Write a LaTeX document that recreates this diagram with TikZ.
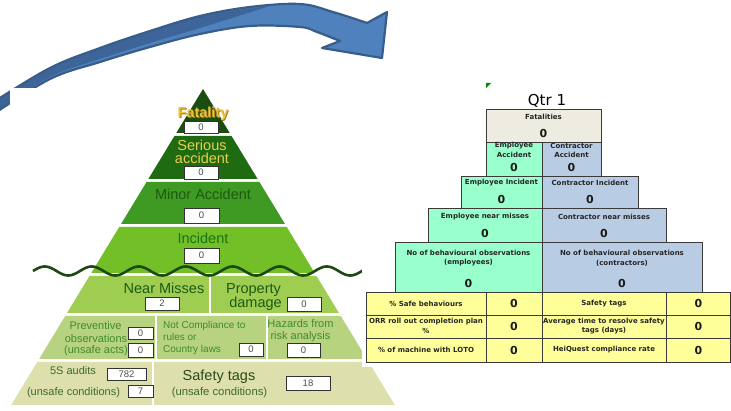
\documentclass[tikz,border=0pt]{standalone}
\usepackage{fontspec}
\setmainfont{Liberation Sans}
\newfontfamily\tah{DejaVu Sans}
\newcommand\myfs[1]{\fontsize{#1}{#1}\selectfont}
\newcommand\pyrband[3]{\fill[#3] ({203-0.607*(#1-89)},#1) -- ({203+0.607*(#1-89)},#1) -- ({203+0.607*(#2-89)},#2) -- ({203-0.607*(#2-89)},#2) -- cycle;}
\definecolor{arlight}{HTML}{4F81BD}
\definecolor{ardark}{HTML}{3E659A}
\definecolor{arline}{HTML}{385D8A}
\definecolor{fatc}{HTML}{1B4D10}
\definecolor{serc}{HTML}{1F6B12}
\definecolor{minc}{HTML}{3E9A22}
\definecolor{incc}{HTML}{72BF28}
\definecolor{nmc}{HTML}{9FCD52}
\definecolor{prc}{HTML}{B8D380}
\definecolor{sfc}{HTML}{DDE0AC}
\definecolor{gold}{HTML}{F0C23A}
\definecolor{goldsh}{HTML}{A07818}
\definecolor{sertext}{HTML}{E8CF50}
\definecolor{wavec}{HTML}{1D4A12}
\definecolor{tabline}{HTML}{3A3A3A}
\definecolor{beige}{HTML}{EEECE1}
\definecolor{mint}{HTML}{99FFCC}
\definecolor{lblue}{HTML}{B8CCE4}
\definecolor{yell}{HTML}{FFFF99}
\definecolor{dgreen}{HTML}{1C5A14}
\definecolor{mgreen}{HTML}{3E8C2E}
\definecolor{ogreen}{HTML}{3D6A2A}
\begin{document}
\begin{tikzpicture}[x=1pt,y=-1pt,
  vbox/.style={draw=black!80, fill=white, line width=0.6pt, inner sep=0pt, outer sep=0pt, font=\myfs{9.5}, text=black!70},
  ptxt/.style={inner sep=0pt, anchor=base},
  cell/.style={draw=tabline, line width=0.7pt, inner sep=0pt, outer sep=0pt, anchor=north west},
  tl/.style={font=\tah\bfseries\myfs{7}, inner sep=0pt, text=black!85},
  tv/.style={font=\tah\bfseries\myfs{11}, inner sep=0pt, text=black!90},
  divider/.style={white, line width=2.5pt}]
\useasboundingbox (0,0) rectangle (731,411);
% ---------- curved arrow ----------
\fill[arlight] plot[smooth, tension=0.6] coordinates {(-8,103) (50,68) (100,48) (150,31) (200,16) (250,7) (300,4) (333,12) (367,23)}
  -- (387,12) -- (382,58) -- (322,48) -- (340,41)
  -- plot[smooth, tension=0.6] coordinates {(340,41) (317,32) (300,27) (250,26) (200,34) (150,47) (100,62) (50,79) (-8,115)} -- cycle;
\fill[ardark] plot[smooth, tension=0.6] coordinates {(-8,103) (50,68) (100,48) (150,31) (200,16) (270,6)}
  -- plot[smooth, tension=0.6] coordinates {(270,6) (200,28) (150,43) (100,59) (50,77) (-8,114)} -- cycle;
\draw[arline, line width=2.2pt, line join=round] plot[smooth, tension=0.6] coordinates {(-8,103) (50,68) (100,48) (150,31) (200,16) (250,7) (300,4) (333,12) (367,23)}
  -- (387,12) -- (382,58) -- (322,48) -- (340,41)
  -- plot[smooth, tension=0.6] coordinates {(340,41) (317,32) (300,27) (250,26) (200,34) (150,47) (100,62) (50,79) (-8,115)} -- cycle;
% ---------- pyramid ----------
\fill[white] (10,88) rectangle (362,411);
\pyrband{89}{133}{fatc}
\pyrband{136}{179}{serc}
\pyrband{182}{224}{minc}
\pyrband{227}{273}{incc}
\pyrband{276}{313}{nmc}
\pyrband{316}{359}{prc}
\pyrband{362}{405}{sfc}
\draw[divider] (210,276) -- (210,313);
\draw[divider] (156,316) -- (156,359);
\draw[divider] (267,316) -- (267,359);
\draw[divider] (153,362) -- (153,405);
\draw[wavec, line width=2.6pt] plot[domain=33:366, samples=220, smooth] (\x,{271-4.5*sin((\x-33)*7.66)});
% texts
\node[ptxt, font=\bfseries\myfs{14.5}, text=goldsh] (fatsh) at (203.9,118.8) {Fatality};
\node[ptxt, font=\bfseries\myfs{14.5}, text=gold] (fattxt) at (203,117.9) {Fatality};
\node[ptxt, font=\myfs{14.5}, text=sertext] (ser1) at (202,150.5) {Serious};
\node[ptxt, font=\myfs{14.5}, text=sertext] (ser2) at (202,164) {accident};
\node[ptxt, font=\myfs{14.5}, text=dgreen] (mintxt) at (203,199.5) {Minor Accident};
\node[ptxt, font=\myfs{14.5}, text=dgreen!85!green] (inctxt) at (203,243.5) {Incident};
\node[ptxt, font=\myfs{14.5}, text=dgreen] (nmtxt) at (164,294) {Near Misses};
\node[ptxt, font=\myfs{14.5}, text=dgreen] (pd1) at (253.5,294) {Property};
\node[ptxt, font=\myfs{14.5}, text=dgreen] (pd2) at (255.5,307.5) {damage};
\node[ptxt, font=\myfs{11}, text=mgreen] (pv1) at (95.5,330) {Preventive};
\node[ptxt, font=\myfs{11}, text=mgreen] (pv2) at (96,342.3) {observations};
\node[ptxt, font=\myfs{11}, text=mgreen] (pv3) at (96,354) {(unsafe acts)};
\node[ptxt, anchor=base west, font=\myfs{10}, text=mgreen] (nc1) at (163,329) {Not Compliance to};
\node[ptxt, anchor=base west, font=\myfs{10}, text=mgreen] (nc2) at (163,341) {rules or};
\node[ptxt, anchor=base west, font=\myfs{10}, text=mgreen] (nc3) at (163,353) {Country laws};
\node[ptxt, font=\myfs{11}, text=mgreen] (hz1) at (300.5,327.3) {Hazards from};
\node[ptxt, font=\myfs{11}, text=mgreen] (hz2) at (300.5,339.5) {risk analysis};
\node[ptxt, font=\myfs{11}, text=ogreen] (sa1) at (73,375) {5S audits};
\node[ptxt, font=\myfs{11}, text=ogreen] (sa2) at (73.5,395.5) {(unsafe conditions)};
\node[ptxt, font=\myfs{14.5}, text=ogreen!70!black] (st1) at (219,380.5) {Safety tags};
\node[ptxt, font=\myfs{11.3}, text=ogreen] (st2) at (219.5,396) {(unsafe conditions)};
% value boxes
\node[vbox, minimum width=34pt, minimum height=12pt] (fat0) at (201,127) {0};
\node[vbox, minimum width=34pt, minimum height=13pt] (ser0) at (201,172.5) {0};
\node[vbox, minimum width=35pt, minimum height=15pt] (min0) at (201.5,215.5) {0};
\node[vbox, minimum width=35pt, minimum height=15pt] (inc0) at (201.5,255.5) {0};
\node[vbox, minimum width=34pt, minimum height=13pt] (nm0) at (162,303.5) {2};
\node[vbox, minimum width=34pt, minimum height=14pt] (pd0) at (304,304) {0};
\node[vbox, minimum width=25pt, minimum height=12pt] (pv0a) at (140.5,333) {0};
\node[vbox, minimum width=25pt, minimum height=14pt] (pv0b) at (140.5,350) {0};
\node[vbox, minimum width=24pt, minimum height=13pt] (nc0) at (251,349.5) {0};
\node[vbox, minimum width=33pt, minimum height=14pt] (hz0) at (303.5,350) {0};
\node[vbox, minimum width=39pt, minimum height=12pt] (sa0a) at (126.5,374) {782};
\node[vbox, minimum width=25pt, minimum height=12pt] (sa0b) at (140.5,391) {7};
\node[vbox, minimum width=44pt, minimum height=14pt] (st0) at (308,383) {18};
% ---------- table ----------
\fill[white] (362,80) rectangle (731,367);
\fill[green!55!black] (486,83) -- (491,83) -- (486,88) -- cycle;
\node[ptxt, font=\tah\myfs{15}, text=black] (qtr) at (547,106) {Qtr 1};
\node[cell, fill=beige, minimum width=115pt, minimum height=33pt] (fatal) at (486,109) {};
\node[cell, fill=mint, minimum width=56pt, minimum height=34pt] (empacc) at (486,142) {};
\node[cell, fill=lblue, minimum width=59pt, minimum height=34pt] (conacc) at (542,142) {};
\node[cell, fill=mint, minimum width=81pt, minimum height=32pt] (empinc) at (461,176) {};
\node[cell, fill=lblue, minimum width=96pt, minimum height=32pt] (coninc) at (542,176) {};
\node[cell, fill=mint, minimum width=114pt, minimum height=34pt] (empnm) at (428,208) {};
\node[cell, fill=lblue, minimum width=124pt, minimum height=34pt] (connm) at (542,208) {};
\node[cell, fill=mint, minimum width=147pt, minimum height=50pt] (empbo) at (395,242) {};
\node[cell, fill=lblue, minimum width=160pt, minimum height=50pt] (conbo) at (542,242) {};
% yellow rows
\node[cell, fill=yell, minimum width=120pt, minimum height=23pt] (r1a) at (366,292) {};
\node[cell, fill=yell, minimum width=56pt, minimum height=23pt] (r1b) at (486,292) {};
\node[cell, fill=yell, minimum width=124pt, minimum height=23pt] (r1c) at (542,292) {};
\node[cell, fill=yell, minimum width=64.5pt, minimum height=23pt] (r1d) at (666,292) {};
\node[cell, fill=yell, minimum width=120pt, minimum height=23pt] (r2a) at (366,315) {};
\node[cell, fill=yell, minimum width=56pt, minimum height=23pt] (r2b) at (486,315) {};
\node[cell, fill=yell, minimum width=124pt, minimum height=23pt] (r2c) at (542,315) {};
\node[cell, fill=yell, minimum width=64.5pt, minimum height=23pt] (r2d) at (666,315) {};
\node[cell, fill=yell, minimum width=120pt, minimum height=24pt] (r3a) at (366,338) {};
\node[cell, fill=yell, minimum width=56pt, minimum height=24pt] (r3b) at (486,338) {};
\node[cell, fill=yell, minimum width=124pt, minimum height=24pt] (r3c) at (542,338) {};
\node[cell, fill=yell, minimum width=64.5pt, minimum height=24pt] (r3d) at (666,338) {};
% table texts
\node[tl] (t1) at (543.5,117) {Fatalities};
\node[tv] (v1) at (543.5,133) {0};
\node[tl] (t2a) at (514,146) {Employee};
\node[tl] (t2b) at (514,155) {Accident};
\node[tv] (v2) at (514,167) {0};
\node[tl] (t3a) at (571.5,146) {Contractor};
\node[tl] (t3b) at (571.5,155) {Accident};
\node[tv] (v3) at (571.5,167) {0};
\node[tl] (t4) at (501.5,183) {Employee Incident};
\node[tv] (v4) at (501.5,199) {0};
\node[tl] (t5) at (590,183) {Contractor Incident};
\node[tv] (v5) at (590,199) {0};
\node[tl] (t6) at (485,217) {Employee near misses};
\node[tv] (v6) at (485,233) {0};
\node[tl] (t7) at (604,217) {Contractor near misses};
\node[tv] (v7) at (604,233) {0};
\node[tl] (t8a) at (468.5,253) {No of behavioural observations};
\node[tl] (t8b) at (468.5,263) {(employees)};
\node[tv] (v8) at (468.5,283) {0};
\node[tl] (t9a) at (622,253) {No of behavioural observations};
\node[tl] (t9b) at (622,263) {(contractors)};
\node[tv] (v9) at (622,283) {0};
\node[tl] (y1a) at (426,303.5) {\% Safe behaviours};
\node[tv] (y1b) at (514,303.5) {0};
\node[tl] (y1c) at (604,303.5) {Safety tags};
\node[tv] (y1d) at (698.5,303.5) {0};
\node[tl] (y2a) at (426,322) {ORR roll out completion plan};
\node[tl] (y2a2) at (426,331) {\%};
\node[tv] (y2b) at (514,326.5) {0};
\node[tl] (y2c) at (604,322) {Average time to resolve safety};
\node[tl] (y2c2) at (604,331) {tags (days)};
\node[tv] (y2d) at (698.5,326.5) {0};
\node[tl] (y3a) at (426,350) {\% of machine with LOTO};
\node[tv] (y3b) at (514,350) {0};
\node[tl] (y3c) at (604,350) {HeiQuest compliance rate};
\node[tv] (y3d) at (698.5,350) {0};
\end{tikzpicture}
\end{document}
